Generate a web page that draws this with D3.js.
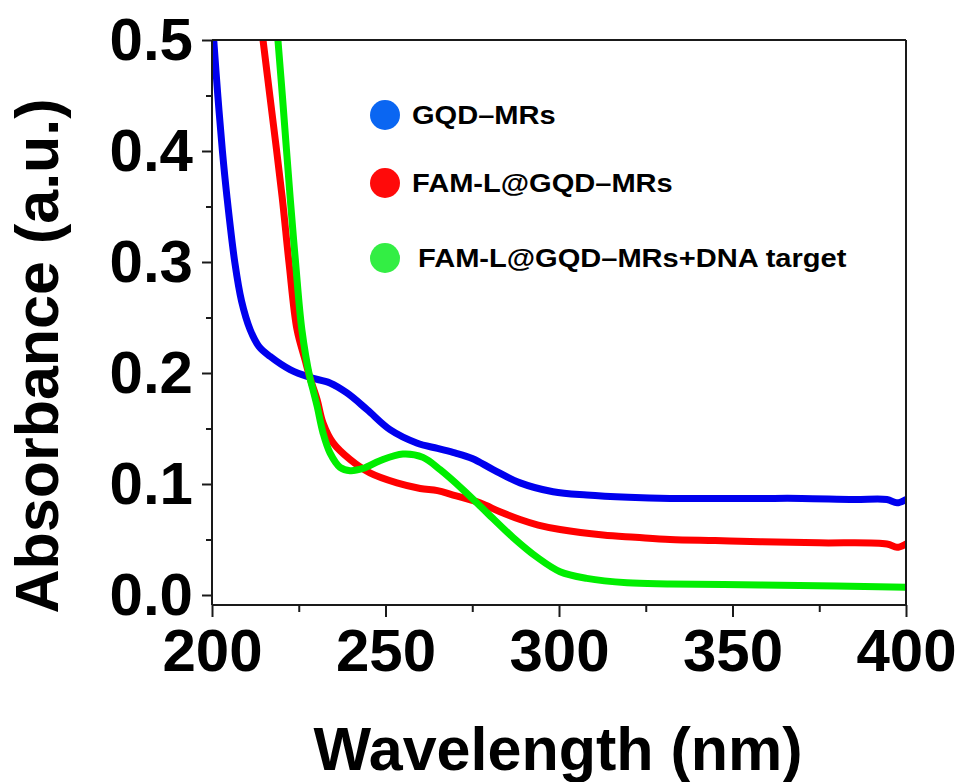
<!DOCTYPE html>
<html>
<head>
<meta charset="utf-8">
<script src="https://cdn.jsdelivr.net/npm/d3@7"></script>
<style>
  body { margin: 0; background: #fff; }
  text { font-family: "Liberation Sans", Arial, sans-serif; font-weight: bold; }
</style>
</head>
<body>
<div class="visContainer"></div>
<script>
// Data.
const gqdWl  = [200.5, 201.7, 203, 204.3, 206.6, 208.5, 211, 213.5, 216.7, 222.5, 228.2, 234, 238.9, 244.7, 251.3, 259, 265, 270, 275, 281, 288.8, 298.3, 308, 320, 332, 345, 358, 370, 385, 394.5, 397.4, 400];
const gqdAbs = [0.5, 0.449, 0.40, 0.359, 0.299, 0.265, 0.239, 0.224, 0.215, 0.203, 0.196, 0.191, 0.182, 0.167, 0.149, 0.137, 0.132, 0.128, 0.123, 0.113, 0.101, 0.093, 0.090, 0.088, 0.087, 0.087, 0.087, 0.087, 0.086, 0.086, 0.083, 0.086];

const famWl  = [214.7, 216.7, 220.2, 222.2, 224.5, 226.8, 228.2, 230.3, 232, 234.9, 239.8, 245.5, 253.3, 260, 265, 269.5, 277.2, 283, 288.8, 294, 300.3, 312.7, 322, 332, 345, 358, 375, 394.5, 397.4, 400];
const famAbs = [0.5, 0.449, 0.359, 0.299, 0.239, 0.212, 0.196, 0.176, 0.155, 0.137, 0.122, 0.110, 0.101, 0.096, 0.094, 0.090, 0.083, 0.075, 0.068, 0.063, 0.059, 0.054, 0.052, 0.050, 0.049, 0.048, 0.047, 0.046, 0.043, 0.046];

const dnaWl  = [219, 220.3, 222.5, 224.1, 225.9, 228.2, 229.1, 230.3, 232, 234, 236.9, 239.8, 243.5, 248.4, 255, 260.8, 265.7, 272.3, 279.3, 286.7, 293.7, 300.3, 308, 319.6, 332, 358, 380, 400];
const dnaAbs = [0.5, 0.449, 0.359, 0.299, 0.239, 0.196, 0.185, 0.170, 0.146, 0.128, 0.115, 0.112, 0.114, 0.121, 0.127, 0.124, 0.113, 0.095, 0.074, 0.052, 0.034, 0.021, 0.015, 0.011, 0.010, 0.009, 0.008, 0.007];

const seriesNames = ['GQD\u2013MRs', 'FAM-L@GQD\u2013MRs', 'FAM-L@GQD\u2013MRs+DNA target'];
const lineColors  = ['#0000ee', '#ff0000', '#00ee00'];
const dotColors   = ['#0a66f2', '#ff0a0a', '#33ee44'];

const xTicks = [200, 250, 300, 350, 400];
const xMinor = [225, 275, 325, 375];
const yTicks = [0.0, 0.1, 0.2, 0.3, 0.4, 0.5];
const yMinor = [0.05, 0.15, 0.25, 0.35, 0.45];

// SVG constants.
const width = 960;
const height = 782;
const plotLeft = 212, plotRight = 906, plotTop = 40, zeroY = 595, axisY = 605;

const svg = d3.select('.visContainer')
              .append('svg')
              .attr('width', width)
              .attr('height', height);

const x = d3.scaleLinear().domain([200, 400]).range([plotLeft, plotRight]);
const y = d3.scaleLinear().domain([0, 0.5]).range([zeroY, plotTop]);

// Clip for the curves.
svg.append('clipPath').attr('id', 'plotClip')
   .append('rect')
   .attr('x', plotLeft).attr('y', plotTop)
   .attr('width', plotRight - plotLeft).attr('height', axisY - plotTop);

const series = [
    gqdWl.map((d, i) => [d, gqdAbs[i]]),
    famWl.map((d, i) => [d, famAbs[i]]),
    dnaWl.map((d, i) => [d, dnaAbs[i]])
];

const line = d3.line()
               .x(d => x(d[0]))
               .y(d => y(d[1]))
               .curve(d3.curveCatmullRom.alpha(0.5));

svg.append('g')
   .attr('clip-path', 'url(#plotClip)')
   .selectAll('path')
   .data(series)
   .join('path')
   .attr('d', line)
   .attr('fill', 'none')
   .attr('stroke', (d, i) => lineColors[i])
   .attr('stroke-width', 7)
   .attr('stroke-linejoin', 'round')
   .attr('stroke-linecap', 'round');

// Frame.
const frame = svg.append('g').attr('stroke', '#1a1a1a').attr('stroke-width', 2);
frame.append('line').attr('x1', plotLeft).attr('x2', plotRight).attr('y1', plotTop).attr('y2', plotTop);
frame.append('line').attr('x1', plotRight).attr('x2', plotRight).attr('y1', plotTop).attr('y2', axisY);
frame.append('line').attr('x1', plotLeft).attr('x2', plotLeft).attr('y1', plotTop).attr('y2', axisY);
frame.append('line').attr('x1', plotLeft).attr('x2', plotRight).attr('y1', axisY).attr('y2', axisY);

// Y axis.
const yAxis = svg.append('g')
   .attr('transform', `translate(${plotLeft},0)`)
   .call(d3.axisLeft(y).tickValues(yTicks).tickFormat(d3.format('.1f')).tickSize(10).tickPadding(9));
yAxis.select('.domain').remove();
yAxis.selectAll('line').attr('stroke', '#1a1a1a').attr('stroke-width', 2);
yAxis.selectAll('text').attr('font-size', 60).attr('fill', '#000').attr('font-family', '"Liberation Sans", Arial, sans-serif');

const yAxisMinor = svg.append('g')
   .attr('transform', `translate(${plotLeft},0)`)
   .call(d3.axisLeft(y).tickValues(yMinor).tickFormat('').tickSize(6));
yAxisMinor.select('.domain').remove();
yAxisMinor.selectAll('line').attr('stroke', '#1a1a1a').attr('stroke-width', 2);

// X axis.
const xAxis = svg.append('g')
   .attr('transform', `translate(0,${axisY})`)
   .call(d3.axisBottom(x).tickValues(xTicks).tickFormat(d3.format('d')).tickSize(12).tickPadding(11));
xAxis.select('.domain').remove();
xAxis.selectAll('line').attr('stroke', '#1a1a1a').attr('stroke-width', 2);
xAxis.selectAll('text').attr('font-size', 60).attr('fill', '#000').attr('font-family', '"Liberation Sans", Arial, sans-serif');

const xAxisMinor = svg.append('g')
   .attr('transform', `translate(0,${axisY})`)
   .call(d3.axisBottom(x).tickValues(xMinor).tickFormat('').tickSize(7));
xAxisMinor.select('.domain').remove();
xAxisMinor.selectAll('line').attr('stroke', '#1a1a1a').attr('stroke-width', 2);

// Axis titles.
svg.append('text')
   .attr('x', 558)
   .attr('y', 770)
   .attr('text-anchor', 'middle')
   .attr('font-size', 61)
   .text('Wavelength (nm)');

svg.append('text')
   .attr('transform', 'translate(58,356) rotate(-90)')
   .attr('text-anchor', 'middle')
   .attr('font-size', 61)
   .text('Absorbance (a.u.)');

// Legend.
const legendY = [115, 183, 258];
const legend = svg.append('g');
seriesNames.forEach((name, i) => {
    legend.append('circle')
          .attr('cx', 385).attr('cy', legendY[i]).attr('r', 15)
          .attr('fill', dotColors[i]);
    legend.append('text')
          .attr('transform', `translate(${i === 2 ? 418 : 412},${legendY[i] + 9}) scale(1.14,1)`)
          .attr('font-size', 25.5)
          .text(name);
});
</script>
</body>
</html>
